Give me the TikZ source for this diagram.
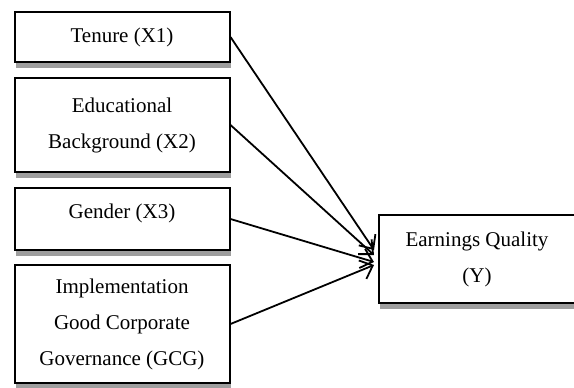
\documentclass[tikz,border=0pt]{standalone}
\usepackage{fontspec}
\setmainfont{Liberation Serif}
\usetikzlibrary{positioning,arrows.meta,shadows}
\tikzset{
    varbox/.style={
        rectangle,draw,line width=1pt,fill=white,align=center,
        minimum width=107.5pt,inner sep=2pt,
        font=\fontsize{10.5}{18}\selectfont,
        drop shadow={shadow xshift=0.5pt,shadow yshift=-3pt,fill=black!38,opacity=1}
    },
    linkarrow/.style={
        ->,line width=0.9pt
    }
}
\begin{document}
\begin{tikzpicture}[x=0.5pt,y=-0.5pt,>={Straight Barb[length=5.5pt,width=10pt]}]
\useasboundingbox (0,0) rectangle (574,387);
\node[varbox,minimum height=25pt] (x1) at (122,37) {Tenure (X1)};
\node[varbox,minimum height=47pt,below=7pt of x1] (x2) {Educational\\Background (X2)};
\node[varbox,minimum height=31pt,text depth=8pt,below=7pt of x2] (x3) {Gender (X3)};
\node[varbox,minimum height=59pt,below=6.5pt of x3] (x4) {Implementation\\Good Corporate\\Governance (GCG)};
\node[varbox,minimum width=98pt,minimum height=44pt] (y) at (477,259) {Earnings Quality\\(Y)};

\draw[linkarrow] (x1.east) -- ([xshift=-2pt,yshift=4.5pt]y.west);
\draw[linkarrow] (x2.east) -- ([xshift=-2pt,yshift=2pt]y.west);
\draw[linkarrow] (x3.east) -- ([xshift=-2pt,yshift=-1.5pt]y.west);
\draw[linkarrow] (x4.east) -- ([xshift=-2pt,yshift=-3pt]y.west);
\end{tikzpicture}
\end{document}
